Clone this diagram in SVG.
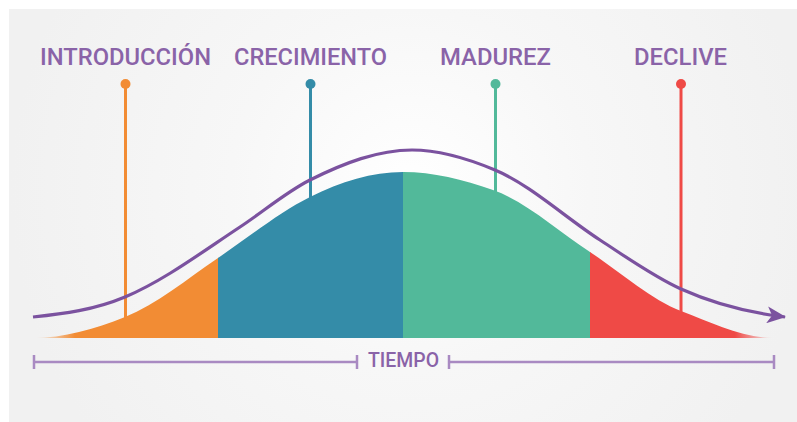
<svg xmlns="http://www.w3.org/2000/svg" width="797" height="422" viewBox="0 0 797 422">
  <style>
    .lbl { font-family: Roboto, "Liberation Sans", sans-serif; font-size: 24px; font-weight: 500; fill: #8a63a8; }
    .axis-lbl { font-family: Roboto, "Liberation Sans", sans-serif; font-size: 20px; font-weight: 500; fill: #8a63a8; }
    .pin { stroke-width: 3; fill: none; }
    .axis { stroke: #a98ac2; stroke-width: 2.5; fill: none; }
    .curve { stroke: #7b529f; stroke-width: 3.2; fill: none; }
  </style>
  <defs>
    <radialGradient id="bg" cx="410" cy="190" r="400" gradientUnits="userSpaceOnUse">
      <stop offset="0" stop-color="#ffffff"/>
      <stop offset="0.45" stop-color="#f7f7f7"/>
      <stop offset="1" stop-color="#f1f1f1"/>
    </radialGradient>
    <linearGradient id="gOrange" x1="36" y1="0" x2="75" y2="0" gradientUnits="userSpaceOnUse">
      <stop offset="0" stop-color="#f28c34" stop-opacity="0"/>
      <stop offset="1" stop-color="#f28c34"/>
    </linearGradient>
    <linearGradient id="gRed" x1="735" y1="0" x2="774" y2="0" gradientUnits="userSpaceOnUse">
      <stop offset="0" stop-color="#ef4a46"/>
      <stop offset="1" stop-color="#ef4a46" stop-opacity="0"/>
    </linearGradient>
    <clipPath id="bell">
      <path d="M33,338 C63.67,338 94.33,329.27 125,317 C156,304.6 187,279.08 218,258 C248.67,237.15 279.33,212.33 310,197 C341,181.5 372,172 403,172 C433,172 463,179.5 493,190 C525.33,201.32 557.67,230.66 590,252 C620.33,272.02 650.67,299.47 681,311 C712,322.78 743,338 774,338 Z"/>
    </clipPath>
    <marker id="arrow" markerUnits="userSpaceOnUse" viewBox="0 0 19 17" markerWidth="19" markerHeight="17" refX="18" refY="8.5" orient="auto">
      <path d="M0,0 L19,8.5 L0,17 L5,8.5 Z" fill="#7b529f"/>
    </marker>
  </defs>

  <rect x="0" y="0" width="797" height="422" fill="#ffffff"/>
  <rect x="9" y="9" width="788" height="413" fill="url(#bg)"/>

  <g id="pins">
    <g id="introduccion">
      <text class="lbl" x="40" y="65" textLength="171" lengthAdjust="spacingAndGlyphs">INTRODUCCIÓN</text>
      <line class="pin" x1="125.5" y1="84" x2="125.5" y2="320" stroke="#f28c34"/>
      <circle cx="125.5" cy="84" r="5" fill="#f28c34"/>
    </g>
    <g id="crecimiento">
      <text class="lbl" x="234" y="65" textLength="153" lengthAdjust="spacingAndGlyphs">CRECIMIENTO</text>
      <line class="pin" x1="310.5" y1="84" x2="310.5" y2="200" stroke="#348ca8"/>
      <circle cx="310.5" cy="84" r="5" fill="#348ca8"/>
    </g>
    <g id="madurez">
      <text class="lbl" x="440" y="65" textLength="111" lengthAdjust="spacingAndGlyphs">MADUREZ</text>
      <line class="pin" x1="495.5" y1="84" x2="495.5" y2="194" stroke="#52b99a"/>
      <circle cx="495.5" cy="84" r="5" fill="#52b99a"/>
    </g>
    <g id="declive">
      <text class="lbl" x="634" y="65" textLength="93" lengthAdjust="spacingAndGlyphs">DECLIVE</text>
      <line class="pin" x1="681" y1="84" x2="681" y2="314" stroke="#ef4a46"/>
      <circle cx="681" cy="84" r="5" fill="#ef4a46"/>
    </g>
  </g>

  <g id="bell-fill" clip-path="url(#bell)">
    <rect x="30" y="160" width="188.5" height="180" fill="url(#gOrange)"/>
    <rect x="218" y="160" width="185.5" height="180" fill="#348ca8"/>
    <rect x="403" y="160" width="187.5" height="180" fill="#52b99a"/>
    <rect x="590" y="160" width="190" height="180" fill="url(#gRed)"/>
  </g>

  <g id="connectors">
    <path class="curve" marker-end="url(#arrow)" d="M33,317 C63.67,313.93 94.33,309.88 125,297 C163.33,280.9 201.67,252.3 240,227 C263.33,211.6 286.67,191.67 310,180 C344,163 378,150 412,150 C439.67,150 467.33,158.38 495,170 C530,184.7 565,217.25 600,240 C627,257.55 654,276.85 681,289 C715.67,304.6 750.33,312.84 785,317"/>
    <g id="tiempo-axis">
      <path class="axis" d="M34,362 H357 M34,355 V369 M357,355 V369 M449,362 H774 M449,355 V369 M774,355 V369"/>
      <text class="axis-lbl" x="368" y="367" textLength="71" lengthAdjust="spacingAndGlyphs">TIEMPO</text>
    </g>
  </g>
</svg>
